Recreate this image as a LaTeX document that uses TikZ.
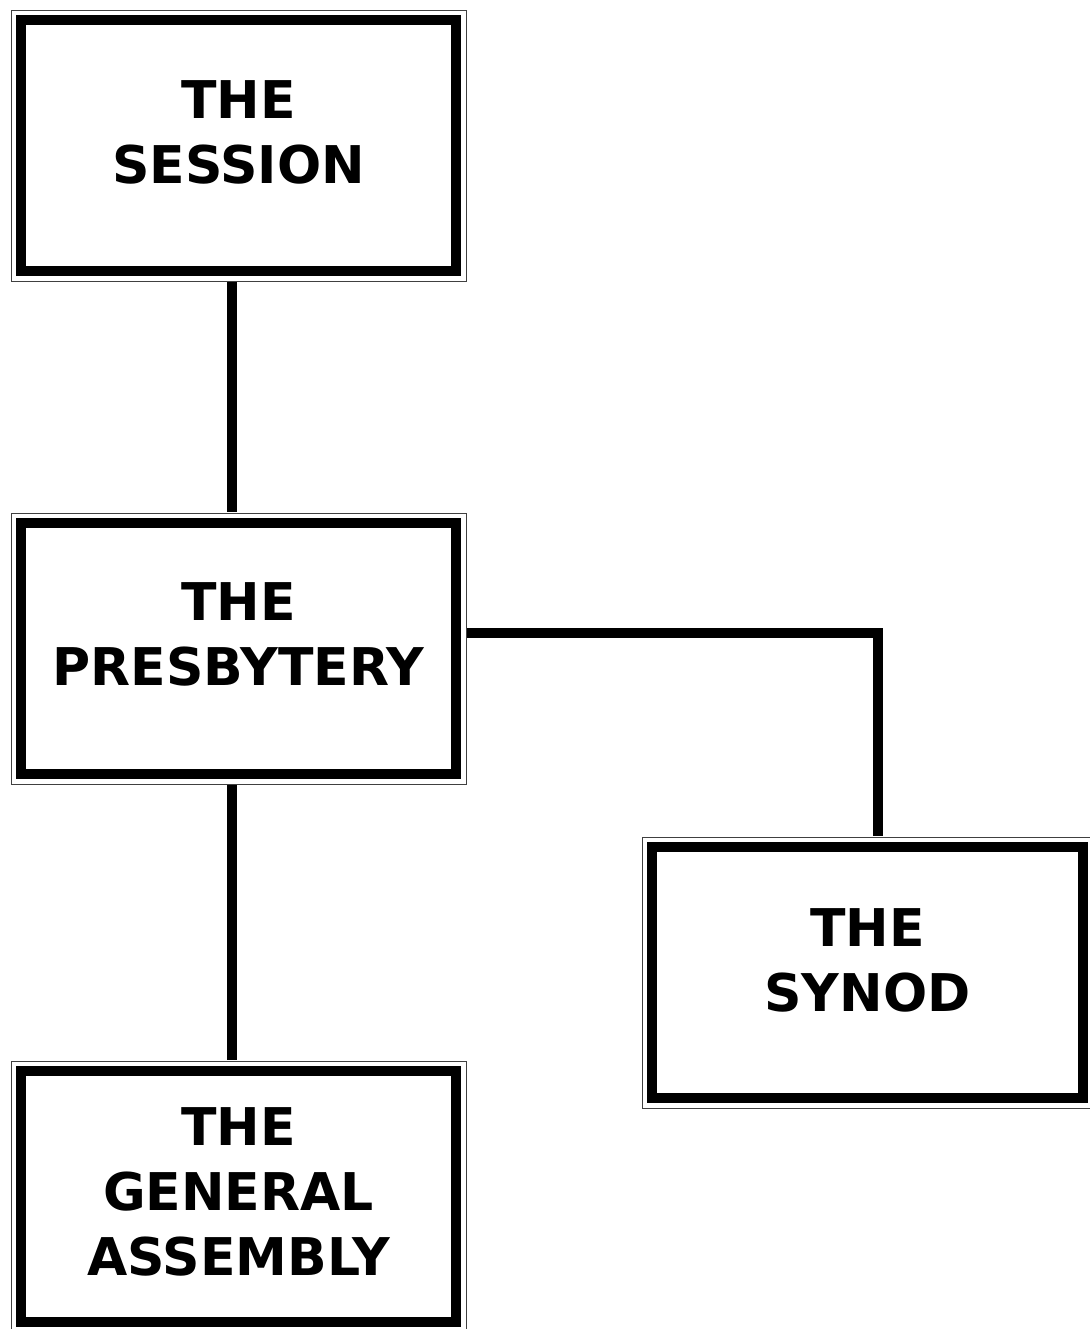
\documentclass[tikz,border=0pt]{standalone}
\usepackage{fontspec}
\setmainfont{DejaVu Sans}
\usepackage{tikz}

\tikzset{
  court/.style={draw, line width=10pt, minimum width=435pt, minimum height=251pt,
    align=center, font=\bfseries\fontsize{52}{65}\selectfont, inner sep=0pt,
    text depth=28pt},
  frame/.style={draw=black!75, line width=1pt},
  link/.style={line width=10pt}
}

\begin{document}
\begin{tikzpicture}[x=1pt,y=-1pt]
\useasboundingbox (0,0) rectangle (1089,1329);
\node[court] (session) at (238.5,146) {THE\\SESSION};
\node[court] (presb) at (238.5,648.5) {THE\\PRESBYTERY};
\node[court, minimum width=431pt, text depth=24pt] (synod) at (867.5,972.5) {THE\\SYNOD};
\node[court, text depth=10pt] (assembly) at (238.5,1196.5) {THE\\GENERAL\\ASSEMBLY};
% thin outer frames
\foreach \n in {session,presb,synod,assembly}
  \draw[frame] ([xshift=-5pt,yshift=-5pt]\n.south west) rectangle ([xshift=5pt,yshift=5pt]\n.north east);
% connectors
\draw[link] ([shift={(-7pt,-6pt)}]session.south) -- ([shift={(-7pt,6pt)}]presb.north);
\draw[link] ([shift={(-7pt,-6pt)}]presb.south) -- ([shift={(-7pt,6pt)}]assembly.north);
\draw[link] ([shift={(6pt,16pt)}]presb.east) -| ([shift={(10pt,6pt)}]synod.north);
\end{tikzpicture}
\end{document}
